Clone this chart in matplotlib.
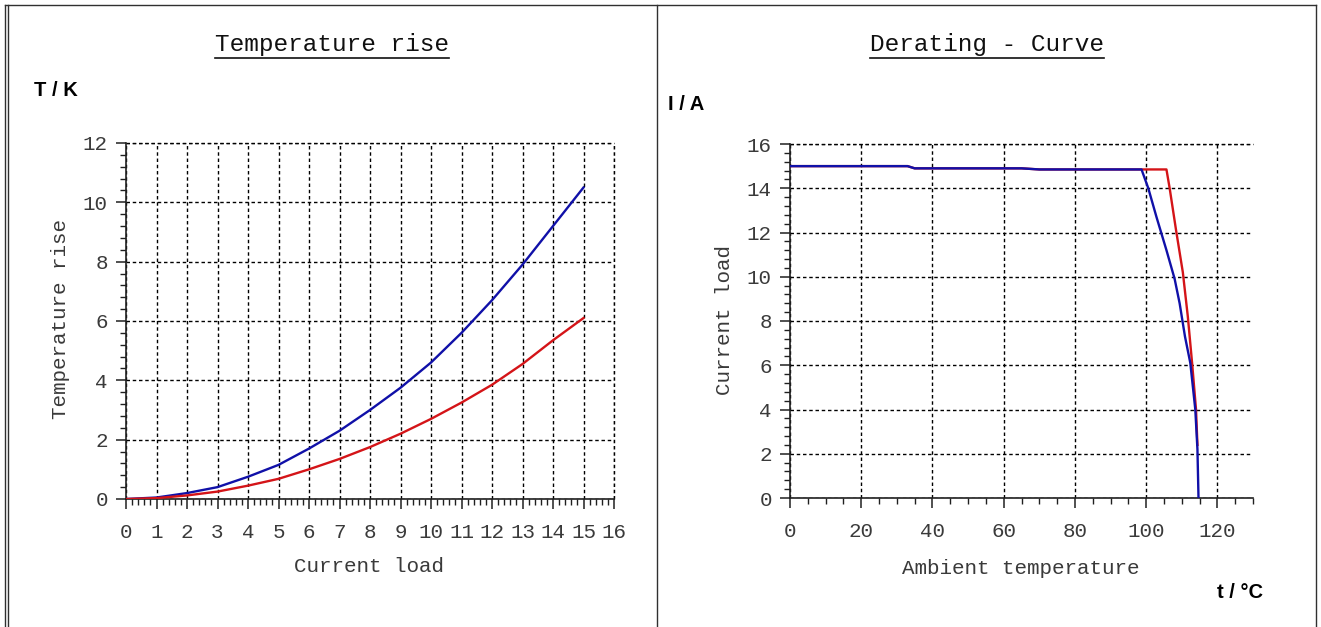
import matplotlib
matplotlib.use("Agg")
from matplotlib import pyplot as plt
from matplotlib.lines import Line2D
from matplotlib.ticker import MultipleLocator

# temperature rise vs current load
load = [0, 1, 2, 3, 4, 5, 6, 7, 8, 9, 10, 11, 12, 13, 14, 15]
rise_blue = [0, 0.05, 0.2, 0.4, 0.75, 1.15, 1.7, 2.3, 3.0, 3.75, 4.6, 5.6, 6.7, 7.9, 9.2, 10.5]
rise_red = [0, 0.03, 0.12, 0.25, 0.45, 0.68, 1.0, 1.35, 1.75, 2.2, 2.7, 3.25, 3.85, 4.55, 5.35, 6.1]

# derating curve
temp_blue = [0, 33, 35, 65, 70, 98.7, 100.6, 102.9, 105.7, 108.0, 109.4, 110.9, 112.4, 113.8, 114.4, 114.7]
cur_blue = [15, 15, 14.9, 14.9, 14.85, 14.85, 14.0, 12.7, 11.2, 9.9, 8.8, 7.3, 6.1, 4.0, 2.2, 0]
temp_red = [0, 33, 35, 65, 70, 98.7, 105.7, 106.6, 108.4, 110.3, 111.7, 112.9, 114.0, 114.4]
cur_red = [15, 15, 14.9, 14.9, 14.85, 14.85, 14.85, 14.0, 12.1, 10.2, 8.2, 6.1, 4.0, 2.4]

BLUE = "#1010a8"
RED = "#d41418"
GREY = "#3a3a3a"
MONO = "Liberation Mono"

W, H = 1321, 627
fig = plt.figure(figsize=(W / 100, H / 100), dpi=100)


def fx(px):
    return px / W


def fy(py):
    return 1 - py / H


def style_axes(ax, xmax, xmaj, xmin, ymax, ymaj, ymin, vgrid_edge):
    ax.set_xlim(0, xmax)
    ax.set_ylim(0, ymax)
    ax.xaxis.set_major_locator(MultipleLocator(xmaj))
    ax.xaxis.set_minor_locator(MultipleLocator(xmin))
    ax.yaxis.set_major_locator(MultipleLocator(ymaj))
    ax.yaxis.set_minor_locator(MultipleLocator(ymin))
    for s in ["top", "right"]:
        ax.spines[s].set_visible(False)
    for s in ["left", "bottom"]:
        ax.spines[s].set_linewidth(1.2)
        ax.spines[s].set_color("#202020")
    ax.tick_params(which="major", direction="out", length=7, width=1.1,
                   labelsize=15, labelcolor=GREY, color="#202020")
    ax.tick_params(axis="x", which="major", pad=10)
    ax.tick_params(axis="y", which="major", pad=6)
    ax.tick_params(which="minor", direction="out", length=4, width=1.0, color="#202020")
    for lab in ax.get_xticklabels() + ax.get_yticklabels():
        lab.set_family(MONO)
    ax.grid(True, which="major", color="black", linestyle=(0, (2.5, 2)), linewidth=1.0)
    ax.set_axisbelow(True)
    # dotted line closing the top of the plot area
    ax.axhline(ymax, color="black", linestyle=(0, (2.5, 2)), linewidth=1.0, clip_on=False)
    if vgrid_edge:
        ax.axvline(xmax, color="black", linestyle=(0, (2.5, 2)), linewidth=1.0, clip_on=False)


# left chart
ax1 = fig.add_axes([fx(126), fy(499), fx(614) - fx(126), fy(143) - fy(499)])
ax1.plot(load, rise_blue, color=BLUE, lw=1.7, zorder=3)
ax1.plot(load, rise_red, color=RED, lw=1.7, zorder=3)
style_axes(ax1, 16, 1, 0.2, 12, 2, 0.4, True)

# right chart
ax2 = fig.add_axes([fx(790), fy(498), fx(1253) - fx(790), fy(144) - fy(498)])
ax2.plot(temp_red, cur_red, color=RED, lw=1.7, zorder=3)
ax2.plot(temp_blue, cur_blue, color=BLUE, lw=1.7, zorder=3)
style_axes(ax2, 130, 20, 5, 16, 2, 0.4, False)

# titles (underlined)
titles = []
titles.append(fig.text(fx(332), fy(45), "Temperature rise", family=MONO, fontsize=17.6,
                       color="#101010", ha="center", va="center"))
titles.append(fig.text(fx(987), fy(45), "Derating - Curve", family=MONO, fontsize=17.6,
                       color="#101010", ha="center", va="center"))

# axis labels
fig.text(fx(369), fy(567), "Current load", family=MONO, fontsize=15, color=GREY,
         ha="center", va="center")
fig.text(fx(60), fy(319), "Temperature rise", family=MONO, fontsize=15, color=GREY,
         ha="center", va="center", rotation=90)
fig.text(fx(1021), fy(568), "Ambient temperature", family=MONO, fontsize=15, color=GREY,
         ha="center", va="center")
fig.text(fx(724), fy(320), "Current load", family=MONO, fontsize=15, color=GREY,
         ha="center", va="center", rotation=90)

# unit labels
fig.text(fx(34), fy(91), "T / K", family="Liberation Sans", fontsize=14.5, fontweight="bold",
         ha="left", va="center")
fig.text(fx(668), fy(104), "I / A", family="Liberation Sans", fontsize=14.5, fontweight="bold",
         ha="left", va="center")
fig.text(fx(1263), fy(593), "t / °C", family="Liberation Sans", fontsize=14.5, fontweight="bold",
         ha="right", va="center")

# frame lines
for x in [5, 8, 657, 1316]:
    fig.add_artist(Line2D([fx(x), fx(x)], [0, fy(5)], color="#303030", lw=1.0))
fig.add_artist(Line2D([fx(5), fx(1316)], [fy(5), fy(5)], color="#303030", lw=1.0))

# underline the titles
fig.canvas.draw()
r = fig.canvas.get_renderer()
for t in titles:
    bb = t.get_window_extent(r)
    yline = bb.y0 - 1
    fig.add_artist(Line2D([bb.x0 / W, bb.x1 / W], [yline / H, yline / H], color="#101010", lw=1.2))

fig.savefig("out.png", dpi=100)
